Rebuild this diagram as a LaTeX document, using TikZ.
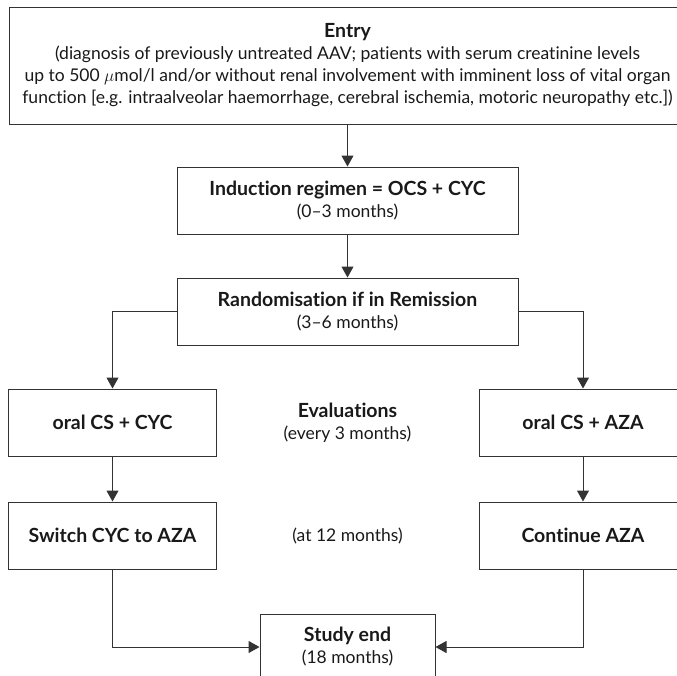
\documentclass[tikz,border=0pt]{standalone}
\usepackage{fontspec}
\setmainfont{Lato}[Ligatures=NoCommon]
\usetikzlibrary{arrows.meta,positioning}
\newcommand{\hd}[1]{{\fontsize{19.5}{22}\selectfont\bfseries #1}}

\begin{document}
\begin{tikzpicture}[
  x=1pt, y=-1pt,
  box/.style   = {rectangle, draw=black!80, line width=1pt,
                  minimum width=#1, minimum height=67pt, inner sep=2pt,
                  align=center, font=\fontsize{17.5}{22}\selectfont,
                  text=black!90},
  box/.default = 208pt,
  note/.style  = {align=center, font=\fontsize{17.5}{22}\selectfont,
                  text=black!90},
  arrow/.style = {-{Triangle[length=11pt, width=12pt]},
                  line width=1pt, black!80}
]
\useasboundingbox (0,0) rectangle (677,675);

%% ─── Centre column ──────────────────────────────────────────────
\node[box=677pt, minimum height=117pt] (entry) at (347.5,65.5)
  {\hd{Entry}\\
   (diagnosis of previously untreated AAV; patients with serum creatinine levels\\
   up to 500~$\mu$mol/l and/or without renal involvement with imminent loss of vital organ\\
   function [e.g. intraalveolar haemorrhage, cerebral ischemia, motoric neuropathy etc.])};

\node[box=341pt, below=42pt of entry] (induct)
  {\hd{Induction regimen = OCS + CYC}\\(0--3 months)};

\node[box=341pt, below=43pt of induct] (random)
  {\hd{Randomisation if in Remission}\\(3--6 months)};

%% ─── Left arm ───────────────────────────────────────────────────
\node[box, below=43pt of random, xshift=-235pt] (oralcyc)
  {\hd{oral CS + CYC}};

\node[box, below=45pt of oralcyc] (switch)
  {\hd{Switch CYC to AZA}};

%% ─── Right arm ──────────────────────────────────────────────────
\node[box, below=43pt of random, xshift=235.5pt] (oralaza)
  {\hd{oral CS + AZA}};

\node[box, below=45pt of oralaza] (contaza)
  {\hd{Continue AZA}};

%% ─── Notes between the arms ─────────────────────────────────────
\node[note] (evals) at (oralcyc -| random)
  {\hd{Evaluations}\\(every 3 months)};
\node[note] (at12) at (switch -| random) {(at 12 months)};

%% ─── End ────────────────────────────────────────────────────────
\node[box=175pt, minimum height=66pt, below=44pt of switch, xshift=235pt] (studyend)
  {\hd{Study end}\\(18 months)};

%% ─── Arrows ─────────────────────────────────────────────────────
\draw[arrow] (entry)  -- (induct);
\draw[arrow] (induct) -- (random);
\draw[arrow] (random.west) -| (oralcyc.north);
\draw[arrow] (random.east) -| (oralaza.north);
\draw[arrow] (oralcyc) -- (switch);
\draw[arrow] (oralaza) -- (contaza);
\draw[arrow] (switch.south)  |- (studyend.west);
\draw[arrow] (contaza.south) |- (studyend.east);

\end{tikzpicture}
\end{document}
